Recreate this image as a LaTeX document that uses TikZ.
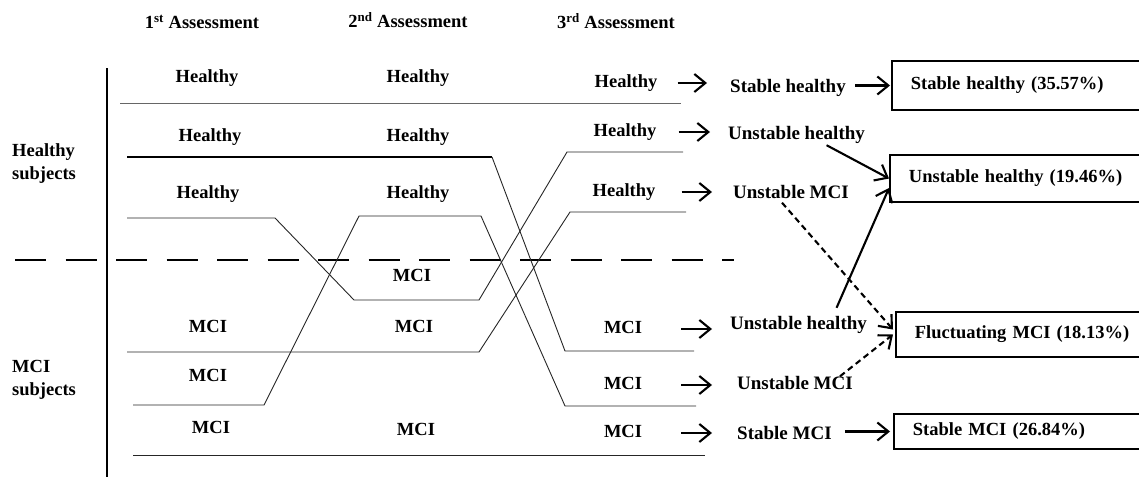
\documentclass[tikz,border=0pt]{standalone}
\usepackage{fontspec}
\setmainfont{Liberation Serif}
\usetikzlibrary{arrows.meta,calc}
\begin{document}
\begin{tikzpicture}[x=1pt,y=-1pt,
  lab/.style={font=\fontsize{18.5}{22}\selectfont\bfseries, inner sep=0pt, text height=13pt, text depth=4pt},
  mid/.style={font=\fontsize{19}{22}\selectfont\bfseries, inner sep=0pt, text height=13pt, text depth=4pt, anchor=west},
  side/.style={font=\fontsize{18.5}{23}\selectfont\bfseries, inner sep=0pt, anchor=west, align=left},
  track/.style={line width=0.9pt, black!85, line join=miter},
  arr/.style={line width=2.1pt, -{Straight Barb[length=11pt,width=18pt]}},
  outbox/.style={draw, line width=1.8pt, anchor=west, text width=216pt, inner xsep=19pt, inner ysep=0pt, align=left, font=\fontsize{18.5}{22}\selectfont\bfseries}
]
\useasboundingbox (0,0) rectangle (1139,477);

% headers
\node[lab] (hd1) at (202,24) {1\textsuperscript{st} Assessment};
\node[lab] (hd2) at (408,23) {2\textsuperscript{nd} Assessment};
\node[lab] (hd3) at (616,24) {3\textsuperscript{rd} Assessment};

% group labels
\node[side] (gh) at (12,164) {Healthy\\subjects};
\node[side] (gm) at (12,380) {MCI\\subjects};

% vertical axis and divider
\draw[line width=1.8pt] (107,68) -- (107,477);
\draw[line width=1.5pt, dash pattern=on 31pt off 19.5pt] (15,260) -- (734,260);

% trajectory lines
\draw[track, black!60] (120,103) -- (681,103);
\draw[line width=1.6pt] (127,157) -- (492,157);
\draw[track] (492,157) -- (565,351) -- (694,351);
\draw[track] (127,218) -- (275,218) -- (354,300) -- (479,300) -- (567,152) -- (683,152);
\draw[track] (133,405) -- (264,405) -- (359,216) -- (481,216) -- (565,406) -- (696,406);
\draw[track] (127,352) -- (479,352) -- (570,212) -- (686,212);
\draw[track] (133,455) -- (705,455);

% column 1
\node[lab] (c11) at (207,78) {Healthy};
\node[lab] (c12) at (210,137) {Healthy};
\node[lab] (c13) at (208,194) {Healthy};
\node[lab] (c14) at (208,328) {MCI};
\node[lab] (c15) at (208,377) {MCI};
\node[lab] (c16) at (211,429) {MCI};
% column 2
\node[lab] (c21) at (418,78) {Healthy};
\node[lab] (c22) at (418,137) {Healthy};
\node[lab] (c23) at (418,194) {Healthy};
\node[lab] (c24) at (412,277) {MCI};
\node[lab] (c25) at (414,328) {MCI};
\node[lab] (c26) at (416,431) {MCI};
% column 3
\node[lab] (c31) at (626,83) {Healthy};
\node[lab] (c32) at (625,132) {Healthy};
\node[lab] (c33) at (624,192) {Healthy};
\node[lab] (c34) at (623,329) {MCI};
\node[lab] (c35) at (623,385) {MCI};
\node[lab] (c36) at (623,433) {MCI};

% middle outcome labels
\node[mid] (sh)  at (730,88)  {Stable healthy};
\node[mid] (uh1) at (728,135) {Unstable healthy};
\node[mid] (um1) at (733,194) {Unstable MCI};
\node[mid] (uh2) at (730,325) {Unstable healthy};
\node[mid] (um2) at (737,385) {Unstable MCI};
\node[mid] (sm)  at (737,435) {Stable MCI};

% boxes
\node[outbox, minimum height=49pt] (b1) at (891,85.5) {Stable healthy (35.57\%)};
\node[outbox, minimum height=47pt] (b2) at (889,178.5) {Unstable healthy (19.46\%)};
\node[outbox, minimum height=45pt] (b3) at (895,334.5) {Fluctuating MCI (18.13\%)};
\node[outbox, minimum height=35pt] (b4) at (893,431.5) {Stable MCI (26.84\%)};

% arrows from third assessment
\draw[arr, shorten <=20pt, shorten >=23pt] (c31.east) -- (c31.east -| sh.west);
\draw[arr, shorten <=22pt, shorten >=18pt] (c32.east) -- (c32.east -| uh1.west);
\draw[arr, shorten <=26pt, shorten >=21pt] (c33.east) -- (c33.east -| um1.west);
\draw[arr, shorten <=39pt, shorten >=18pt] (c34.east) -- (c34.east -| uh2.west);
\draw[arr, shorten <=39pt, shorten >=25pt] (c35.east) -- (c35.east -| um2.west);
\draw[arr, shorten <=39pt, shorten >=25pt] (c36.east) -- (c36.east -| sm.west);

% arrows to boxes
\draw[arr, shorten <=9pt, shorten >=1pt] (sh.east |- b1.west) -- (b1.west);
\draw[arr, shorten <=13pt, shorten >=3pt] (sm.east |- b4.west) -- (b4.west);
\draw[arr] ([xshift=30pt,yshift=-1.5pt]uh1.south) -- (b2.west);
\draw[arr] ([xshift=38pt,yshift=8.5pt]uh2.north) -- ([yshift=-9.5pt]b2.west);
\draw[arr, dash pattern=on 6pt off 4pt] ([xshift=-9pt]um1.south) -- ([xshift=-2pt,yshift=5pt]b3.west);
\draw[arr, dash pattern=on 6pt off 4pt] ([xshift=45pt]um2.north) -- ([xshift=-2pt]b3.west);
\end{tikzpicture}
\end{document}
